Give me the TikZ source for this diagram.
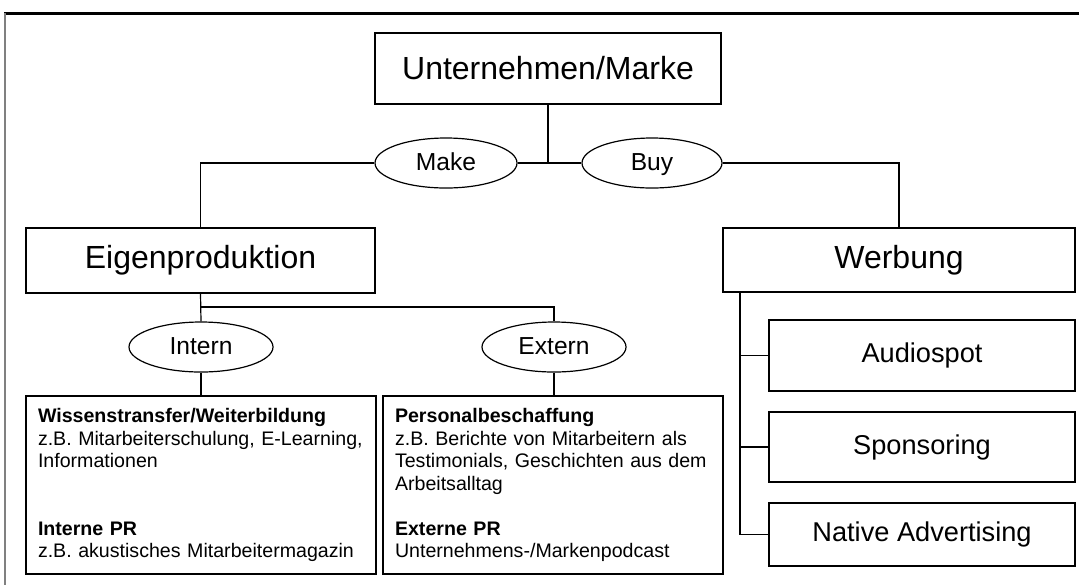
\documentclass[tikz,border=0pt]{standalone}
\usepackage{fontspec}
\setmainfont{Liberation Sans}
\usetikzlibrary{shapes.geometric}

\begin{document}
\begin{tikzpicture}[x=0.5pt,y=-0.5pt,line width=0.6pt,
box/.style={draw,rectangle,inner sep=0pt,fill=white},
oval/.style={draw,ellipse,inner sep=0pt,fill=white,minimum width=72pt,minimum height=25pt,text height=0.95em,text depth=0.23em,font=\fontsize{12.3}{14}\selectfont},
big/.style={box,font=\fontsize{16}{19}\selectfont},
mid/.style={box,minimum width=153pt,font=\fontsize{13.6}{16}\selectfont},
txt/.style={box,align=left,inner xsep=6pt,minimum height=89pt,font=\fontsize{9.8}{11.25}\selectfont}]
\useasboundingbox (0,0) rectangle (1079,585);
\draw[line width=1.5pt](4,13)--(1079,13);
\draw[gray,line width=1pt](5,13)--(5,585);
\node[big,minimum width=173pt,minimum height=35.5pt] (um) at (548,68.5) {Unternehmen/Marke};
\node[oval,minimum width=71pt] (make) at (446,163) {Make};
\node[oval,minimum width=70pt] (buy) at (652,163) {Buy};
\node[big,minimum width=174.5pt,minimum height=32.5pt] (eig) at (200.5,260.5) {Eigenproduktion};
\node[big,minimum width=176pt,minimum height=32pt] (werb) at (899,260) {Werbung};
\node[oval] (intern) at (201,347) {Intern};
\node[oval] (extern) at (554,347) {Extern};
\node[txt,text width=163pt] (wiss) at (201,485) {\textbf{Wissenstransfer/Weiterbildung}\\
z.B. Mitarbeiterschulung, E-Learning,\\ Informationen\\ \strut\\ \strut\\
\textbf{Interne PR}\\ z.B. akustisches Mitarbeitermagazin};
\node[txt,text width=158pt] (pers) at (553,485) {\textbf{Personalbeschaffung}\\
z.B. Berichte von Mitarbeitern als\\ Testimonials, Geschichten aus dem\\ Arbeitsalltag\\ \strut\\
\textbf{Externe PR}\\ Unternehmens-/Markenpodcast};
\node[mid,minimum height=35.5pt] (audio) at (922,355.5) {Audiospot};
\node[mid,minimum height=35pt] (spons) at (922,447) {Sponsoring};
\node[mid,minimum height=31.5pt] (native) at (922,534.5) {Native Advertising};
\draw(um.south)--(um.south|-make.east);
\draw(make)--(buy);
\draw(make.west)-|(eig.north);
\draw(buy.east)-|(werb.north);
\draw(eig.south)--(intern.north);
\coordinate (split) at (201,307);
\draw(split)-|(extern.north);
\draw(intern.south)--(wiss.north);
\draw(extern.south)--(extern.south|-pers.north);
\coordinate (wb) at (740,292);
\draw(wb)|-(native.west);
\draw(wb|-audio.west)--(audio.west);
\draw(wb|-spons.west)--(spons.west);
\end{tikzpicture}
\end{document}
